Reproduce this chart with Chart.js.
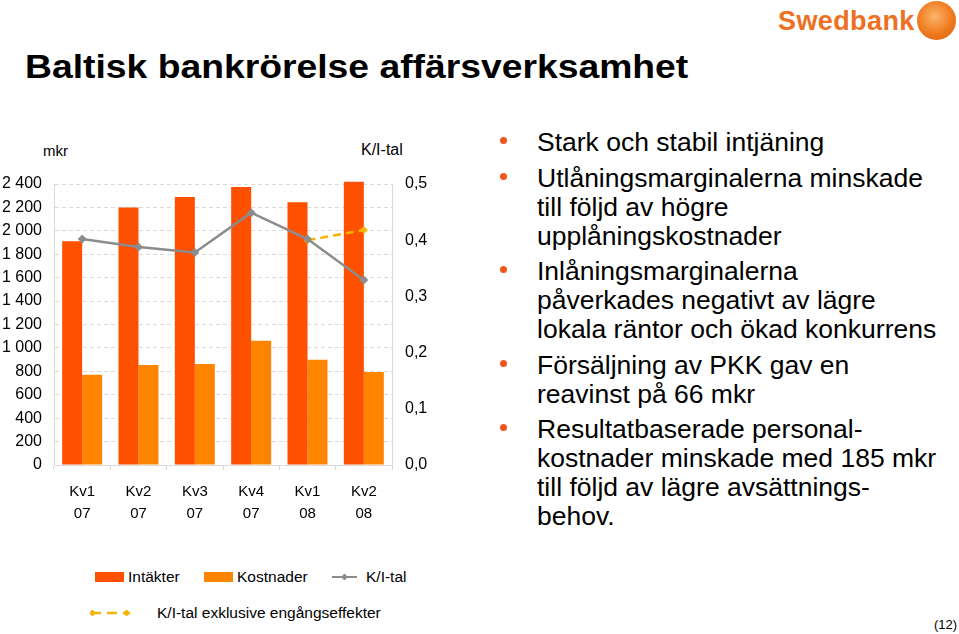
<!DOCTYPE html>
<html lang="sv">
<head>
<meta charset="utf-8">
<title>Baltisk bankrörelse affärsverksamhet</title>
<script src="https://cdn.jsdelivr.net/npm/chart.js@4.4.1/dist/chart.umd.min.js"></script>
<style>
  html, body { margin: 0; padding: 0; background: #fff; }
  body { width: 959px; height: 634px; position: relative; overflow: hidden; font-family: "Liberation Sans", Arial, sans-serif; color: #000; }
  .abs { position: absolute; white-space: nowrap; }
  #title { left: 25px; top: 50px; font-size: 33px; line-height: 33px; font-weight: bold; transform: scaleX(1.13); transform-origin: 0 50%; }
  #logo { left: 778px; top: 8px; font-weight: bold; font-size: 27px; line-height: 27px; color: #ee7023; letter-spacing: 0.4px; }
  #logo-ball { left: 917px; top: 1px; width: 39px; height: 39px; border-radius: 50%; background: radial-gradient(circle at 45% 40%, #fbb46a, #ef7a1e 55%, #d85a0a); }
  #chart-box { position: absolute; left: 0; top: 130px; width: 450px; height: 400px; }
  #mkr { left: 43px; top: 142px; font-size: 15px; line-height: 18px; }
  #kital { left: 361px; top: 141px; font-size: 16px; line-height: 18px; }
  #bullets { position: absolute; left: 537px; top: 128px; margin: 0; padding: 0; list-style: none; font-size: 26.5px; line-height: 28.9px; white-space: nowrap; }
  #bullets li { position: relative; margin-bottom: 6.8px; }
  #bullets li::before { content: ""; position: absolute; left: -37px; top: 9px; width: 7px; height: 7px; border-radius: 50%; background: #f0561e; }
  .leg-text { font-size: 15.5px; line-height: 18px; }
  #page { right: 2px; top: 617px; font-size: 13px; line-height: 16px; }
</style>
</head>
<body>
<div id="title" class="abs">Baltisk bankrörelse affärsverksamhet</div>
<div id="logo" class="abs">Swedbank</div>
<div id="logo-ball" class="abs"></div>

<div id="mkr" class="abs">mkr</div>
<div id="kital" class="abs">K/I-tal</div>
<div id="chart-box"><canvas id="kiChart"></canvas></div>

<ul id="bullets">
  <li>Stark och stabil intjäning</li>
  <li>Utlåningsmarginalerna minskade<br>till följd av högre<br>upplåningskostnader</li>
  <li>Inlåningsmarginalerna<br>påverkades negativt av lägre<br>lokala räntor och ökad konkurrens</li>
  <li>Försäljning av PKK gav en<br>reavinst på 66 mkr</li>
  <li>Resultatbaserade personal-<br>kostnader minskade med 185 mkr<br>till följd av lägre avsättnings-<br>behov.</li>
</ul>

<div id="page" class="abs">(12)</div>

<script>
const categories = [['Kv1', '07'], ['Kv2', '07'], ['Kv3', '07'], ['Kv4', '07'], ['Kv1', '08'], ['Kv2', '08']];
const intakter = [1910, 2200, 2290, 2375, 2245, 2420];
const kostnader = [770, 855, 862, 1062, 900, 795];
const kiTal = [0.402, 0.388, 0.378, 0.449, 0.402, 0.329];
const kiTalExkl = [null, null, null, null, 0.400, 0.418];
const mkrTicks = [0, 200, 400, 600, 800, 1000, 1200, 1400, 1600, 1800, 2000, 2200, 2400];
const kiTicks = [0, 0.1, 0.2, 0.3, 0.4, 0.5];
const seriesNames = ['Intäkter', 'Kostnader', 'K/I-tal', 'K/I-tal exklusive engångseffekter'];

const RED = '#ff5000';
const ORANGE = '#ff8500';
const GREY = '#8c8c8c';
const YELLOW = '#f4b400';
const GRID = '#dadada';

Chart.defaults.font.family = '"Liberation Sans", Arial, sans-serif';
Chart.defaults.color = '#000';

const fmtMkr = v => String(v).replace(/\B(?=(\d{3})+(?!\d))/g, ' ');
const fmtKi = v => Number(v).toFixed(1).replace('.', ',');

new Chart(document.getElementById('kiChart'), {
    type: 'bar',
    data: {
        labels: categories,
        datasets: [
            { type: 'line', label: seriesNames[2], data: kiTal, yAxisID: 'y1', order: 0,
              borderColor: GREY, backgroundColor: GREY, borderWidth: 2.5, tension: 0,
              pointStyle: 'rectRot', pointRadius: 4.5, pointBorderWidth: 0 },
            { type: 'line', label: seriesNames[3], data: kiTalExkl, yAxisID: 'y1', order: 0,
              borderColor: YELLOW, backgroundColor: YELLOW, borderWidth: 2.5, borderDash: [8, 5], tension: 0,
              pointStyle: 'rectRot', pointRadius: 4, pointBorderWidth: 0 },
            { label: seriesNames[0], data: intakter, yAxisID: 'y', order: 1, backgroundColor: RED, clip: false },
            { label: seriesNames[1], data: kostnader, yAxisID: 'y', order: 1, backgroundColor: ORANGE }
        ]
    },
    options: {
        responsive: true, maintainAspectRatio: false, animation: false,
        layout: { padding: { top: 54, left: 0, right: 0, bottom: 0 } },
        datasets: { bar: { categoryPercentage: 0.71, barPercentage: 1 } },
        plugins: { legend: { display: false }, tooltip: { enabled: false } },
        scales: {
            x: {
                offset: true,
                grid: { display: true, offset: true, drawOnChartArea: false, drawTicks: true, tickLength: 5, color: GRID },
                border: { color: GRID },
                ticks: { font: { size: 15, lineHeight: 1.45 }, padding: 11, maxRotation: 0, autoSkip: false },
                afterFit: s => { s.height = 65; }
            },
            y: {
                position: 'left', min: 0, max: 2400,
                afterBuildTicks: s => { s.ticks = mkrTicks.map(v => ({ value: v })); },
                ticks: { font: { size: 16 }, padding: 12, callback: v => fmtMkr(v) },
                grid: { color: GRID, drawTicks: false },
                border: { color: GRID, dash: [4, 3] },
                afterFit: s => { s.width = 54; }
            },
            y1: {
                position: 'right', min: 0, max: 0.5,
                afterBuildTicks: s => { s.ticks = kiTicks.map(v => ({ value: v })); },
                ticks: { font: { size: 16 }, padding: 13, callback: v => fmtKi(v) },
                grid: { drawOnChartArea: false, drawTicks: false },
                border: { color: GRID },
                afterFit: s => { s.width = 58; }
            }
        }
    }
});

// legend below the chart
function legendItem(left, top, iconSvg, text, textLeft) {
    const icon = document.createElement('div');
    icon.className = 'abs';
    icon.style.left = left + 'px';
    icon.style.top = top + 'px';
    icon.innerHTML = iconSvg;
    document.body.appendChild(icon);
    const t = document.createElement('div');
    t.className = 'abs leg-text';
    t.style.left = textLeft + 'px';
    t.style.top = (top + 1) + 'px';
    t.textContent = text;
    document.body.appendChild(t);
}
const box = c => `<svg width="30" height="20"><rect x="0" y="5" width="29" height="10" fill="${c}"/></svg>`;
const greyIcon = `<svg width="26" height="20"><line x1="0" y1="10" x2="25" y2="10" stroke="${GREY}" stroke-width="2"/><path d="M12.5 6.5 L16 10 L12.5 13.5 L9 10 Z" fill="${GREY}"/></svg>`;
const yellowIcon = `<svg width="42" height="20"><line x1="1" y1="10" x2="40" y2="10" stroke="${YELLOW}" stroke-width="2.5" stroke-dasharray="10 6"/>` +
    `<path d="M2.5 6.5 L6 10 L2.5 13.5 L-1 10 Z" fill="${YELLOW}"/><path d="M36.5 6.5 L40 10 L36.5 13.5 L33 10 Z" fill="${YELLOW}"/></svg>`;
legendItem(95, 567, box(RED), seriesNames[0], 128);
legendItem(204, 567, box(ORANGE), seriesNames[1], 237);
legendItem(332, 567, greyIcon, seriesNames[2], 366);
legendItem(90, 603, yellowIcon, seriesNames[3], 157);
</script>
</body>
</html>
